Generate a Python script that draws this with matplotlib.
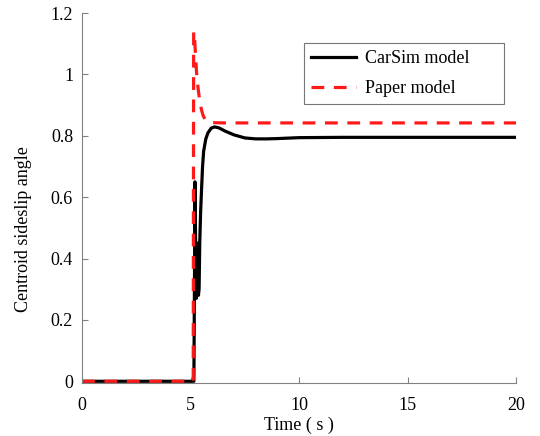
import matplotlib
matplotlib.use("Agg")
import matplotlib.pyplot as plt

plt.rcParams['font.family'] = ['Liberation Serif', 'DejaVu Serif']

# CarSim model (time s, centroid sideslip angle)
t_carsim = [0, 5.0, 5.15, 5.18, 5.2, 5.23, 5.26, 5.29, 5.33, 5.36, 5.39, 5.42, 5.46,
            5.5, 5.55, 5.6, 5.7, 5.8, 5.95, 6.1, 6.3, 6.6, 7.0, 7.5, 8.0, 8.5, 9.0,
            10.0, 12.0, 15.0, 20.0]
y_carsim = [0, 0, 0, 0.35, 0.65, 0.45, 0.27, 0.3, 0.45, 0.28, 0.3, 0.45, 0.55,
            0.62, 0.7, 0.75, 0.79, 0.81, 0.825, 0.829, 0.826, 0.815, 0.803, 0.793,
            0.79, 0.79, 0.791, 0.794, 0.795, 0.795, 0.795]

# Paper model
t_paper = [0, 5.12, 5.14, 5.18, 5.22, 5.27, 5.32, 5.37, 5.43, 5.5, 5.58, 5.68,
           5.8, 6.0, 6.5, 8.0, 20.0]
y_paper = [0, 0, 1.14, 1.12, 1.07, 1.01, 0.97, 0.94, 0.91, 0.885, 0.865, 0.852,
           0.846, 0.843, 0.842, 0.842, 0.842]

x_ticks = [0, 5, 10, 15, 20]
y_ticks = [0, 0.2, 0.4, 0.6, 0.8, 1, 1.2]
y_labels = ['0', '0.2', '0.4', '0.6', '0.8', '1', '1.2']

fig = plt.figure(figsize=(5.4, 4.36), dpi=100)
ax = fig.add_axes([0.152, 0.122, 0.804, 0.848])

ax.plot(t_carsim, y_carsim, color='black', lw=2.3, label='CarSim model')
ax.plot(t_paper, y_paper, color='#ff1a1a', lw=2.3, ls=(0, (4, 3)), label='Paper model')

ax.set_xlim(0, 20)
ax.set_ylim(-0.005, 1.2)
ax.set_xticks(x_ticks)
ax.set_yticks(y_ticks)
ax.set_yticklabels(y_labels)
ax.tick_params(direction='in', length=4, color='#808080', labelsize=13)
ax.tick_params(axis='y', pad=6.5)
ax.tick_params(axis='x', pad=10)

for s in ['top', 'right']:
    ax.spines[s].set_visible(False)
for s in ['left', 'bottom']:
    ax.spines[s].set_color('#808080')

ax.set_xlabel('Time ( s )', fontsize=13, labelpad=2)
ax.set_ylabel('Centroid sideslip angle', fontsize=13)
ax.yaxis.set_label_coords(-0.115, 0.415)

leg = ax.legend(['CarSim model      ', 'Paper model'], loc='upper right',
                bbox_to_anchor=(0.972, 0.919), borderaxespad=0, fontsize=13,
                frameon=True, fancybox=False, handlelength=2.5, handletextpad=0.5,
                borderpad=0.4, labelspacing=0.7)
leg.get_frame().set_edgecolor('#555555')
leg.get_frame().set_linewidth(0.8)

fig.savefig('out.png', dpi=100)
